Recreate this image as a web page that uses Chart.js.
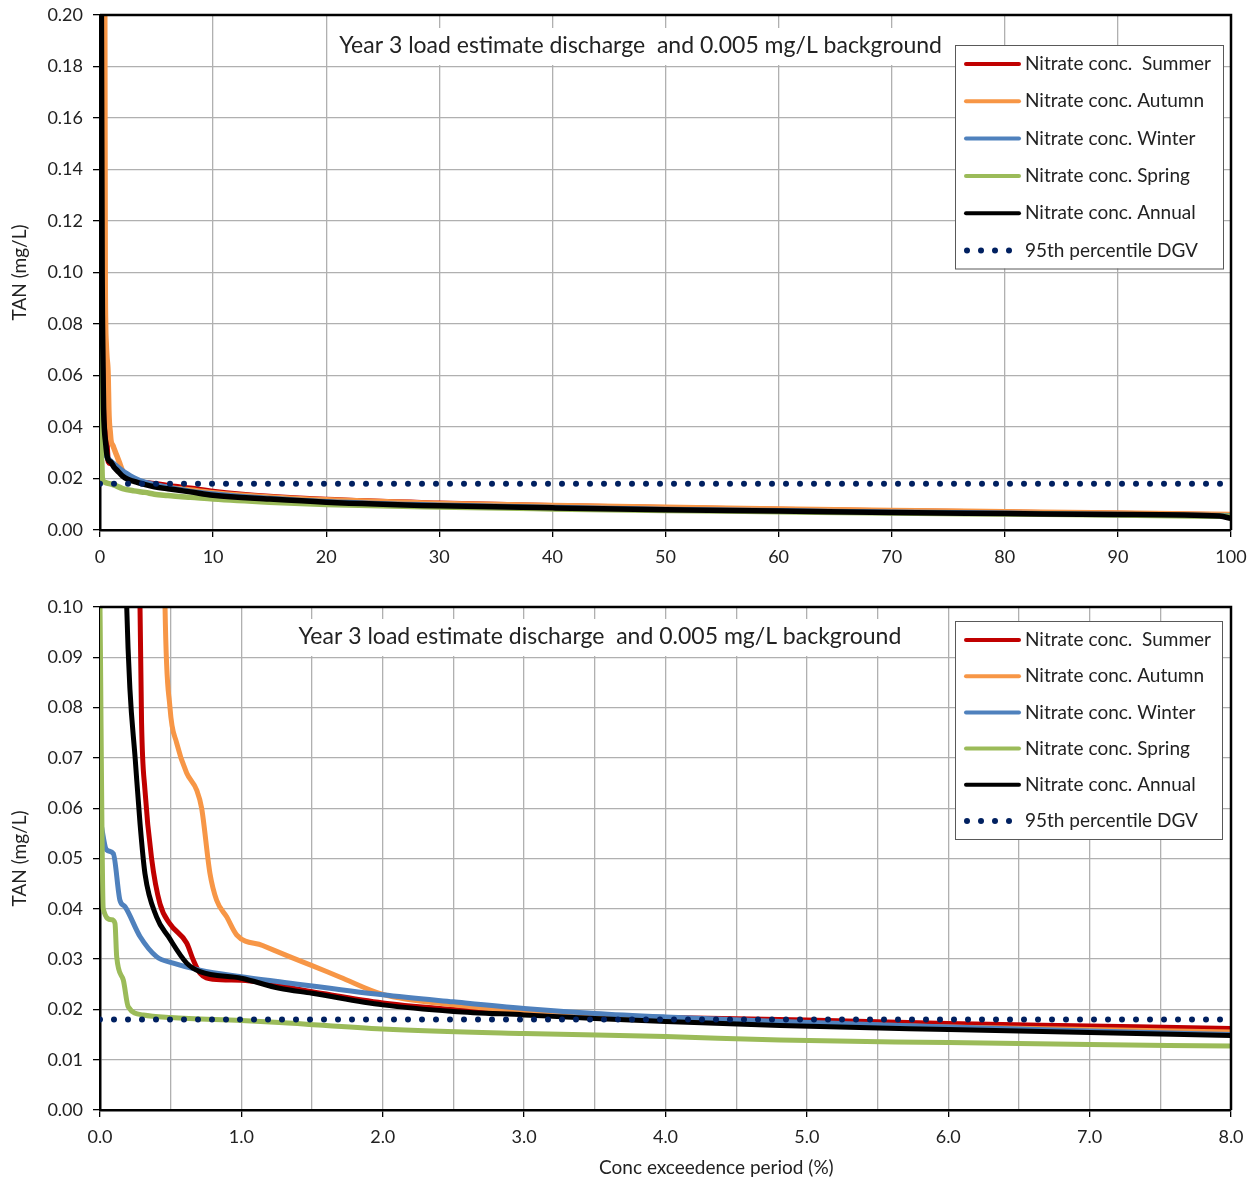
<!DOCTYPE html>
<html>
<head>
<meta charset="utf-8">
<script src="https://cdn.jsdelivr.net/npm/chart.js@4.4.1/dist/chart.umd.min.js"></script>
<style>
  body { margin: 0; background: #fff; }
  canvas { position: absolute; left: 0; }
  #fullChart { top: 0; }
  #zoomChart { top: 590px; }
</style>
</head>
<body>
<canvas id="fullChart" width="1257" height="575"></canvas>
<canvas id="zoomChart" width="1257" height="590"></canvas>
<script>
// Concentration exceedence curves (x = % of time exceeded, y = TAN mg/L)
const summerPct  = [0, 0.25, 0.283, 0.294, 0.318, 0.365, 0.424, 0.495, 0.613, 0.66, 0.707, 0.8, 1.0, 1.5, 2.0, 2.5, 3.0, 3.5, 4.0, 5.0, 6.0, 7.0, 8.0, 10, 15, 20, 30, 40, 50, 60, 70, 80, 90, 100];
const summerConc = [0.5, 0.2, 0.1, 0.077, 0.0636, 0.050, 0.041, 0.037, 0.0332, 0.0298, 0.0272, 0.026, 0.0258, 0.0235, 0.0213, 0.0200, 0.0192, 0.0186, 0.0184, 0.0179, 0.0172, 0.0167, 0.0162, 0.0150, 0.0130, 0.0118, 0.0104, 0.0094, 0.0086, 0.0080, 0.0074, 0.0069, 0.0064, 0.0058];

const autumnPct  = [0, 0.42, 0.46, 0.495, 0.542, 0.613, 0.684, 0.719, 0.778, 0.825, 0.896, 0.967, 1.15, 1.34, 1.5, 1.7, 2.0, 2.5, 3.0, 3.5, 4.0, 5.0, 6.0, 7.0, 8.0, 10, 15, 20, 30, 40, 50, 60, 70, 80, 90, 100];
const autumnConc = [0.6, 0.2, 0.1, 0.080, 0.073, 0.067, 0.0636, 0.060, 0.047, 0.0417, 0.0384, 0.0348, 0.0327, 0.0305, 0.0287, 0.0264, 0.0230, 0.0209, 0.0196, 0.0189, 0.0181, 0.0172, 0.0165, 0.0160, 0.0155, 0.0145, 0.0128, 0.0117, 0.0103, 0.0095, 0.0088, 0.0082, 0.0076, 0.0071, 0.0066, 0.0060];

const winterPct  = [0, 0.047, 0.094, 0.141, 0.177, 0.283, 0.4, 0.518, 0.707, 1.0, 1.27, 2.0, 2.5, 3.0, 3.5, 4.0, 4.81, 6.0, 7.0, 8.0, 10, 15, 20, 30, 40, 50, 60, 70, 80, 90, 100];
const winterConc = [0.058, 0.0517, 0.051, 0.0417, 0.0404, 0.0345, 0.0305, 0.0292, 0.0278, 0.0265, 0.0255, 0.0229, 0.0215, 0.0202, 0.0192, 0.0185, 0.0176, 0.0165, 0.0157, 0.0150, 0.0140, 0.0122, 0.0110, 0.0096, 0.0087, 0.0080, 0.0075, 0.0069, 0.0065, 0.0060, 0.0055];

const springPct  = [0, 0.023, 0.083, 0.106, 0.118, 0.165, 0.2, 0.306, 0.5, 1.0, 1.27, 2.0, 3.0, 4.0, 4.81, 6.0, 7.0, 8.0, 10, 15, 20, 30, 40, 50, 60, 70, 80, 90, 100];
const springConc = [0.1, 0.040, 0.0378, 0.0371, 0.0305, 0.0258, 0.0205, 0.0189, 0.0184, 0.0178, 0.0174, 0.0161, 0.0152, 0.0146, 0.0139, 0.0134, 0.0130, 0.0127, 0.0120, 0.0108, 0.0099, 0.0089, 0.0082, 0.0076, 0.0071, 0.0066, 0.0062, 0.0058, 0.0053];

const annualPct  = [0, 0.12, 0.189, 0.212, 0.248, 0.283, 0.318, 0.4, 0.483, 0.613, 0.707, 1.0, 1.27, 1.5, 2.0, 2.5, 3.0, 3.5, 4.0, 4.81, 6.0, 7.0, 8.0, 10, 15, 20, 30, 40, 50, 60, 70, 80, 90, 99, 100];
const annualConc = [0.5, 0.2, 0.1, 0.0835, 0.0702, 0.057, 0.047, 0.0384, 0.0345, 0.0292, 0.0275, 0.0262, 0.0242, 0.0232, 0.0209, 0.0196, 0.0189, 0.0182, 0.0176, 0.0168, 0.0160, 0.0154, 0.0148, 0.0135, 0.0120, 0.0108, 0.0094, 0.0086, 0.0079, 0.0074, 0.0068, 0.0064, 0.0060, 0.0054, 0.0045];

// 95th percentile default guideline value
const dgvPct  = [0, 100];
const dgvConc = [0.018, 0.018];

const seriesLabels = ['Nitrate conc.  Summer', 'Nitrate conc. Autumn', 'Nitrate conc. Winter', 'Nitrate conc. Spring', 'Nitrate conc. Annual', '95th percentile DGV'];
const seriesColors = ['#c00000', '#f79646', '#4f81bd', '#9bbb59', '#000000', '#002060'];

const chartTitle = 'Year 3 load estimate discharge  and 0.005 mg/L background';
const yTitle = 'TAN (mg/L)';
const xTitle = 'Conc exceedence period (%)';

const FONT = 'Lato, "Open Sans", sans-serif';
const TEXT = '#222';
const GRID = '#b0b0b0';

function points(xs, ys) {
  return xs.map((x, i) => ({ x: x, y: ys[i] }));
}

function makeDatasets(width) {
  const curves = [
    points(summerPct, summerConc),
    points(autumnPct, autumnConc),
    points(winterPct, winterConc),
    points(springPct, springConc),
    points(annualPct, annualConc)
  ];
  const sets = curves.map((data, i) => ({
    label: seriesLabels[i],
    data: data,
    borderColor: seriesColors[i],
    borderWidth: width,
    pointRadius: 0,
    cubicInterpolationMode: 'monotone',
    order: 6 - i
  }));
  sets.push({
    label: seriesLabels[5],
    data: points(dgvPct, dgvConc),
    borderColor: seriesColors[5],
    borderWidth: 6,
    borderDash: [0, 14],
    borderCapStyle: 'round',
    pointRadius: 0,
    order: 0
  });
  return sets;
}

// Boxed legend drawn inside the plot area, top right
const boxLegend = {
  id: 'boxLegend',
  afterDraw(chart, args, opts) {
    const { ctx, chartArea } = chart;
    const h = 37 + 5 * opts.rowGap;
    const left = chartArea.right - opts.right - opts.width;
    const top = chartArea.top + opts.top;
    ctx.save();
    ctx.fillStyle = '#fff';
    ctx.fillRect(left, top, opts.width, h);
    ctx.strokeStyle = '#595959';
    ctx.lineWidth = 1;
    ctx.strokeRect(left + 0.5, top + 0.5, opts.width, h);
    ctx.font = '19px ' + FONT;
    ctx.textBaseline = 'middle';
    chart.data.datasets.forEach((ds, i) => {
      const y = top + 19 + i * opts.rowGap;
      ctx.strokeStyle = ds.borderColor;
      ctx.lineCap = 'round';
      if (ds.borderDash) {
        ctx.fillStyle = ds.borderColor;
        for (let k = 0; k < 4; k++) {
          ctx.beginPath();
          ctx.arc(left + 12 + k * 14, y, 3, 0, Math.PI * 2);
          ctx.fill();
        }
      } else {
        ctx.lineWidth = 4;
        ctx.beginPath();
        ctx.moveTo(left + 11, y);
        ctx.lineTo(left + 64, y);
        ctx.stroke();
      }
      ctx.fillStyle = TEXT;
      ctx.fillText(ds.label, left + 70, y);
    });
    ctx.restore();
  }
};

// Title text on a white patch inside the plot area
const innerTitle = {
  id: 'innerTitle',
  afterDatasetsDraw(chart, args, opts) {
    const { ctx, chartArea } = chart;
    const cx = chartArea.left + opts.cx * (chartArea.right - chartArea.left);
    const cy = chartArea.top + opts.dy;
    ctx.save();
    ctx.font = '23px ' + FONT;
    const w = ctx.measureText(opts.text).width;
    ctx.fillStyle = '#fff';
    ctx.fillRect(cx - w / 2 - 10, cy - 18, w + 20, 37);
    ctx.fillStyle = TEXT;
    ctx.textAlign = 'center';
    ctx.textBaseline = 'middle';
    ctx.fillText(opts.text, cx, cy);
    if (opts.caption) {
      ctx.font = '19px ' + FONT;
      ctx.fillText(opts.caption, chartArea.left + opts.captionX * (chartArea.right - chartArea.left), chartArea.bottom + 58);
    }
    ctx.restore();
  }
};

// Black top and right edges closing the plot frame
const frame = {
  id: 'frame',
  afterDatasetsDraw(chart) {
    const { ctx, chartArea } = chart;
    ctx.save();
    ctx.strokeStyle = '#000';
    ctx.lineWidth = 2.5;
    ctx.beginPath();
    ctx.moveTo(chartArea.left, chartArea.top);
    ctx.lineTo(chartArea.right, chartArea.top);
    ctx.lineTo(chartArea.right, chartArea.bottom);
    ctx.stroke();
    ctx.restore();
  }
};

function yScale(max, step) {
  return {
    type: 'linear',
    min: 0,
    max: max,
    afterFit(scale) {
      scale.width = 100;
      scale.paddingTop = 0;
      scale.paddingBottom = 0;
    },
    ticks: {
      stepSize: step,
      padding: 10,
      color: TEXT,
      font: { family: FONT, size: 18 },
      callback: v => v.toFixed(2)
    },
    grid: { color: GRID, lineWidth: 1.3, tickColor: '#000', tickLength: 7 },
    border: { color: '#000', width: 2.5 },
    title: {
      display: true,
      text: yTitle,
      color: TEXT,
      font: { family: FONT, size: 19 },
      padding: { top: 8.5, bottom: 0 }
    }
  };
}

// Full range, 0 - 100 %
new Chart(document.getElementById('fullChart'), {
  type: 'line',
  data: { datasets: makeDatasets(5.5) },
  options: {
    responsive: false,
    animation: false,
    layout: { padding: { top: 15, right: 26, left: 0, bottom: 0 } },
    plugins: {
      legend: { display: false },
      tooltip: { enabled: false },
      boxLegend: { width: 268, right: 8, top: 30, rowGap: 37.3 },
      innerTitle: { text: chartTitle, cx: 0.478, dy: 31 }
    },
    scales: {
      x: {
        type: 'linear',
        min: 0,
        max: 100,
        afterFit(scale) { scale.height = 45; },
        ticks: {
          stepSize: 10,
          padding: 9,
          maxRotation: 0,
          color: TEXT,
          font: { family: FONT, size: 18 }
        },
        grid: { color: GRID, lineWidth: 1.3, tickColor: '#000', tickLength: 7 },
        border: { color: '#000', width: 2.5 }
      },
      y: yScale(0.2, 0.02)
    }
  },
  plugins: [frame, innerTitle, boxLegend]
});

// First 8 % of the exceedence period
new Chart(document.getElementById('zoomChart'), {
  type: 'line',
  data: { datasets: makeDatasets(5) },
  options: {
    responsive: false,
    animation: false,
    layout: { padding: { top: 17, right: 26, left: 0, bottom: 0 } },
    plugins: {
      legend: { display: false },
      tooltip: { enabled: false },
      boxLegend: { width: 267, right: 9, top: 14, rowGap: 36.2 },
      innerTitle: { text: chartTitle, cx: 0.442, dy: 30, caption: xTitle, captionX: 0.545 }
    },
    scales: {
      x: {
        type: 'linear',
        min: 0,
        max: 8,
        afterFit(scale) { scale.height = 70; },
        ticks: {
          stepSize: 0.5,
          autoSkip: false,
          padding: 9,
          maxRotation: 0,
          color: TEXT,
          font: { family: FONT, size: 18 },
          callback: v => (Math.abs(v % 1) < 1e-9 ? v.toFixed(1) : '')
        },
        grid: {
          color: GRID,
          lineWidth: 1.3,
          tickLength: 7,
          tickColor: ctx => (ctx.tick && Math.abs(ctx.tick.value % 1) < 1e-9 ? '#000' : 'rgba(0,0,0,0)')
        },
        border: { color: '#000', width: 2.5 }
      },
      y: yScale(0.1, 0.01)
    }
  },
  plugins: [frame, innerTitle, boxLegend]
});
</script>
</body>
</html>
